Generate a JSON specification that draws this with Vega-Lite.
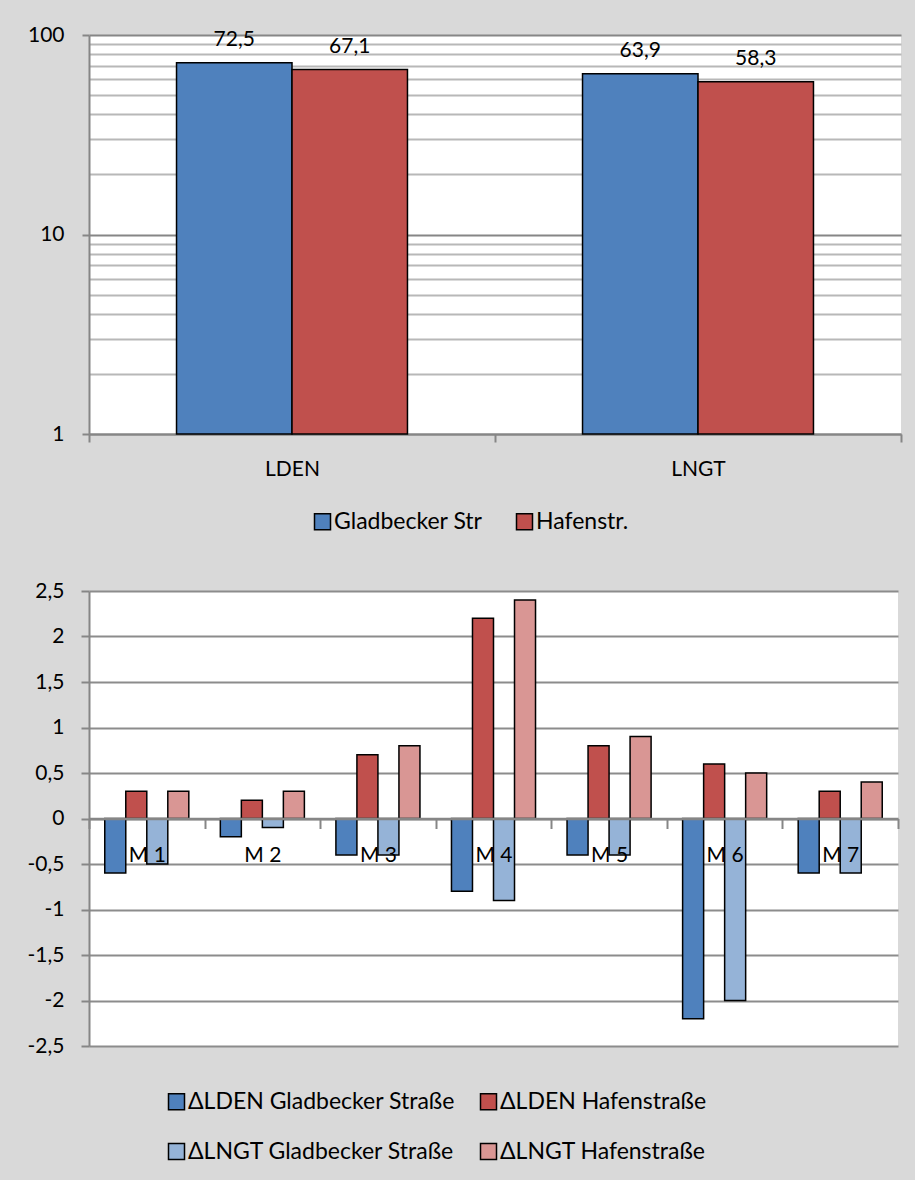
{
  "$schema": "https://vega.github.io/schema/vega-lite/v6.json",
  "background": "#d9d9d9",
  "padding": {"left": 27, "top": 24, "right": 15, "bottom": 34},
  "spacing": 46,
  "config": {
    "locale": {"number": {"decimal": ",", "thousands": ".", "grouping": [3], "currency": ["", " €"], "minus": "-"}},
    "font": "Lato",
    "view": {"stroke": null, "fill": "white"},
    "axis": {"labelFont": "Lato", "labelFontSize": 21, "labelColor": "black", "domainColor": "#868686", "domainWidth": 2, "tickColor": "#868686", "tickWidth": 2},
    "legend": {"labelFont": "Lato", "labelFontSize": 23, "labelColor": "black", "labelLimit": 500, "symbolType": "square", "symbolSize": 256, "symbolStrokeColor": "black", "symbolStrokeWidth": 1.5, "symbolOpacity": 1, "labelOffset": 0}
  },
  "resolve": {"scale": {"color": "independent", "x": "independent", "xOffset": "independent", "y": "independent"}, "legend": {"color": "independent"}},
  "vconcat": [
    {
      "width": 812,
      "height": 399,
      "data": {"values": [
        {"metric": "LDEN", "street": "Gladbecker Str", "value": 72.5},
        {"metric": "LDEN", "street": "Hafenstr.", "value": 67.1},
        {"metric": "LNGT", "street": "Gladbecker Str", "value": 63.9},
        {"metric": "LNGT", "street": "Hafenstr.", "value": 58.3}
      ]},
      "encoding": {
        "x": {"field": "metric", "type": "nominal", "sort": ["LDEN", "LNGT"],
          "scale": {"paddingInner": 0, "paddingOuter": 0},
          "axis": {"title": null, "labelAngle": 0, "tickBand": "extent", "tickSize": 8, "labelPadding": 16, "grid": false}},
        "xOffset": {"field": "street", "type": "nominal", "sort": ["Gladbecker Str", "Hafenstr."],
          "scale": {"paddingInner": 0, "paddingOuter": 0.758}},
        "y": {"field": "value", "type": "quantitative",
          "scale": {"type": "log", "domain": [1, 100], "nice": false},
          "axis": {"title": null,
            "values": [1, 2, 3, 4, 5, 6, 7, 8, 9, 10, 20, 30, 40, 50, 60, 70, 80, 90, 100],
            "labelExpr": "datum.value == 1 || datum.value == 10 || datum.value == 100 ? datum.label : ''",
            "gridColor": {"condition": {"test": "datum.value == 1 || datum.value == 10 || datum.value == 100", "value": "#868686"}, "value": "#b8b8b8"},
            "gridWidth": 2,
            "tickOpacity": {"condition": {"test": "datum.value == 1 || datum.value == 10 || datum.value == 100", "value": 1}, "value": 0},
            "tickSize": 7, "labelPadding": 18}}
      },
      "layer": [
        {"mark": {"type": "bar", "stroke": "black", "strokeWidth": 1.5},
         "encoding": {
           "y2": {"datum": 1},
           "color": {"field": "street", "type": "nominal", "sort": ["Gladbecker Str", "Hafenstr."],
           "scale": {"domain": ["Gladbecker Str", "Hafenstr."], "range": ["#4f81bd", "#c0504d"]},
           "legend": {"title": null, "orient": "none", "direction": "horizontal", "columnPadding": 30, "legendX": 222, "legendY": 475}}}},
        {"mark": {"type": "text", "baseline": "alphabetic", "dy": -17, "fontSize": 21, "color": "black"},
         "encoding": {"text": {"field": "value", "type": "quantitative", "format": ".1f"}}}
      ]
    },
    {
      "width": 809,
      "height": 455,
      "data": {"values": [
        {"m": "M 1", "series": "ΔLDEN Gladbecker Straße", "value": -0.6},
        {"m": "M 1", "series": "ΔLDEN Hafenstraße", "value": 0.3},
        {"m": "M 1", "series": "ΔLNGT Gladbecker Straße", "value": -0.5},
        {"m": "M 1", "series": "ΔLNGT Hafenstraße", "value": 0.3},
        {"m": "M 2", "series": "ΔLDEN Gladbecker Straße", "value": -0.2},
        {"m": "M 2", "series": "ΔLDEN Hafenstraße", "value": 0.2},
        {"m": "M 2", "series": "ΔLNGT Gladbecker Straße", "value": -0.1},
        {"m": "M 2", "series": "ΔLNGT Hafenstraße", "value": 0.3},
        {"m": "M 3", "series": "ΔLDEN Gladbecker Straße", "value": -0.4},
        {"m": "M 3", "series": "ΔLDEN Hafenstraße", "value": 0.7},
        {"m": "M 3", "series": "ΔLNGT Gladbecker Straße", "value": -0.4},
        {"m": "M 3", "series": "ΔLNGT Hafenstraße", "value": 0.8},
        {"m": "M 4", "series": "ΔLDEN Gladbecker Straße", "value": -0.8},
        {"m": "M 4", "series": "ΔLDEN Hafenstraße", "value": 2.2},
        {"m": "M 4", "series": "ΔLNGT Gladbecker Straße", "value": -0.9},
        {"m": "M 4", "series": "ΔLNGT Hafenstraße", "value": 2.4},
        {"m": "M 5", "series": "ΔLDEN Gladbecker Straße", "value": -0.4},
        {"m": "M 5", "series": "ΔLDEN Hafenstraße", "value": 0.8},
        {"m": "M 5", "series": "ΔLNGT Gladbecker Straße", "value": -0.4},
        {"m": "M 5", "series": "ΔLNGT Hafenstraße", "value": 0.9},
        {"m": "M 6", "series": "ΔLDEN Gladbecker Straße", "value": -2.2},
        {"m": "M 6", "series": "ΔLDEN Hafenstraße", "value": 0.6},
        {"m": "M 6", "series": "ΔLNGT Gladbecker Straße", "value": -2.0},
        {"m": "M 6", "series": "ΔLNGT Hafenstraße", "value": 0.5},
        {"m": "M 7", "series": "ΔLDEN Gladbecker Straße", "value": -0.6},
        {"m": "M 7", "series": "ΔLDEN Hafenstraße", "value": 0.3},
        {"m": "M 7", "series": "ΔLNGT Gladbecker Straße", "value": -0.6},
        {"m": "M 7", "series": "ΔLNGT Hafenstraße", "value": 0.4}
      ]},
      "mark": {"type": "bar", "stroke": "black", "strokeWidth": 1.5},
      "encoding": {
        "x": {"field": "m", "type": "nominal",
          "scale": {"paddingInner": 0, "paddingOuter": 0},
          "axis": {"title": null, "labelAngle": 0, "tickBand": "extent", "tickSize": 10, "offset": -227.5, "zindex": 1, "labelPadding": 16, "domainWidth": 2.5, "grid": false}},
        "xOffset": {"field": "series", "type": "nominal",
          "sort": ["ΔLDEN Gladbecker Straße", "ΔLDEN Hafenstraße", "ΔLNGT Gladbecker Straße", "ΔLNGT Hafenstraße"],
          "scale": {"paddingInner": 0, "paddingOuter": 0.75}},
        "y": {"field": "value", "type": "quantitative",
          "scale": {"domain": [-2.5, 2.5], "nice": false, "zero": false},
          "axis": {"title": null, "values": [-2.5, -2, -1.5, -1, -0.5, 0, 0.5, 1, 1.5, 2, 2.5], "format": "~g",
            "gridColor": "#8c8c8c", "gridWidth": 2, "tickSize": 8, "labelPadding": 17}},
        "color": {"field": "series", "type": "nominal",
          "scale": {"domain": ["ΔLDEN Gladbecker Straße", "ΔLDEN Hafenstraße", "ΔLNGT Gladbecker Straße", "ΔLNGT Hafenstraße"],
            "range": ["#4f81bd", "#c0504d", "#95b3d7", "#d99694"]},
          "legend": {"title": null, "orient": "none", "direction": "horizontal", "columns": 2, "columnPadding": 22, "rowPadding": 26, "legendX": 76, "legendY": 499}}
      }
    }
  ]
}
